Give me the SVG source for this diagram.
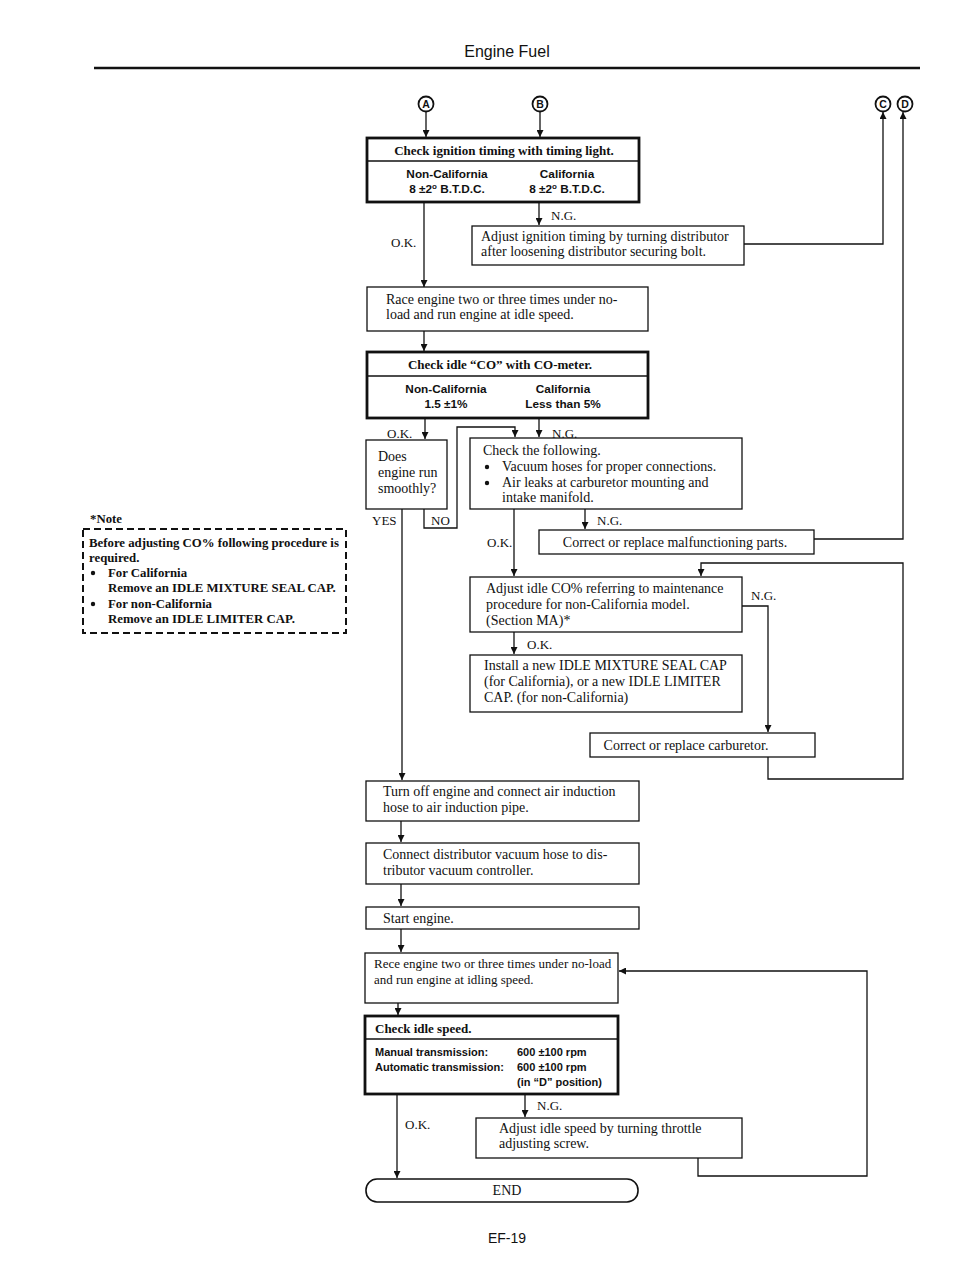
<svg xmlns="http://www.w3.org/2000/svg" width="960" height="1276" viewBox="0 0 960 1276">
<style>
.bg{fill:#fff}
.box{fill:#fff;stroke:#111;stroke-width:1.3}
.tbox{fill:#fff;stroke:#111;stroke-width:2.8}
.div{stroke:#111;stroke-width:1.5}
.ln{fill:none;stroke:#111;stroke-width:1.3}
.t{font-family:"Liberation Serif","Times New Roman",serif;font-size:14px;fill:#111}
.lb{font-family:"Liberation Serif","Times New Roman",serif;font-size:13px;fill:#111}
.tb{font-family:"Liberation Serif","Times New Roman",serif;font-size:13px;font-weight:bold;fill:#111}
.nb{font-family:"Liberation Serif","Times New Roman",serif;font-size:12.8px;font-weight:bold;fill:#111}
.s{font-family:"Liberation Sans",Arial,sans-serif;font-size:11px;font-weight:bold;fill:#111}
.s2{font-family:"Liberation Sans",Arial,sans-serif;font-size:11.8px;font-weight:bold;fill:#111}
.c{text-anchor:middle}
.circ{fill:#fff;stroke:#111;stroke-width:1.8}
.cl{font-family:"Liberation Sans",Arial,sans-serif;font-size:10.5px;font-weight:bold;fill:#111;text-anchor:middle}
</style>
<defs>
<marker id="ah" viewBox="0 0 10 10" refX="10" refY="5" markerWidth="8" markerHeight="7" orient="auto" markerUnits="userSpaceOnUse">
<path d="M0,0 L10,5 L0,10 z" fill="#111"/>
</marker>
</defs>
<rect class="bg" width="960" height="1276"/>

<g id="header">
<text x="507" y="57" style="font-family:'Liberation Sans',Arial,sans-serif;font-size:16px;fill:#111" text-anchor="middle">Engine Fuel</text>
<line x1="94" y1="68" x2="920" y2="68" stroke="#111" stroke-width="2.5"/>
</g>

<g id="connectorA"><circle class="circ" cx="426" cy="104" r="7.5"/><text class="cl" x="426" y="108">A</text></g>
<g id="connectorB"><circle class="circ" cx="540" cy="104" r="7.5"/><text class="cl" x="540" y="108">B</text></g>
<g id="connectorC"><circle class="circ" cx="883" cy="104" r="7.5"/><text class="cl" x="883" y="108">C</text></g>
<g id="connectorD"><circle class="circ" cx="905" cy="104" r="7.5"/><text class="cl" x="905" y="108">D</text></g>

<g id="connectors">
<path class="ln" d="M426,112 V137" marker-end="url(#ah)"/>
<path class="ln" d="M540,112 V137" marker-end="url(#ah)"/>
<path class="ln" d="M424,202 V287" marker-end="url(#ah)"/>
<path class="ln" d="M539,202 V225" marker-end="url(#ah)"/>
<path class="ln" d="M744,244 H883 V112" marker-end="url(#ah)"/>
<path class="ln" d="M424,331 V351" marker-end="url(#ah)"/>
<path class="ln" d="M425,418 V439" marker-end="url(#ah)"/>
<path class="ln" d="M539,418 V437" marker-end="url(#ah)"/>
<path class="ln" d="M424,509 V528 H457 V427 H515 V437" marker-end="url(#ah)"/>
<path class="ln" d="M402,509 V780" marker-end="url(#ah)"/>
<path class="ln" d="M585,509 V529" marker-end="url(#ah)"/>
<path class="ln" d="M514,509 V576" marker-end="url(#ah)"/>
<path class="ln" d="M814,539 H903 V112" marker-end="url(#ah)"/>
<path class="ln" d="M768,757 V779 H903 V563 H701 V576" marker-end="url(#ah)"/>
<path class="ln" d="M742,606 H768 V732" marker-end="url(#ah)"/>
<path class="ln" d="M514,632 V654" marker-end="url(#ah)"/>
<path class="ln" d="M401,821 V842" marker-end="url(#ah)"/>
<path class="ln" d="M401,884 V906" marker-end="url(#ah)"/>
<path class="ln" d="M401,929 V952" marker-end="url(#ah)"/>
<path class="ln" d="M398,1003 V1015" marker-end="url(#ah)"/>
<path class="ln" d="M525,1094 V1117" marker-end="url(#ah)"/>
<path class="ln" d="M397,1094 V1178" marker-end="url(#ah)"/>
<path class="ln" d="M698,1158 V1176 H867 V971 H619" marker-end="url(#ah)"/>
<text class="lb" x="391" y="247">O.K.</text>
<text class="lb" x="551" y="220">N.G.</text>
<text class="lb" x="387" y="438">O.K.</text>
<text class="lb" x="552" y="438">N.G.</text>
<text class="lb" x="372" y="525">YES</text>
<text class="lb" x="431" y="525">NO</text>
<text class="lb" x="597" y="525">N.G.</text>
<text class="lb" x="487" y="547">O.K.</text>
<text class="lb" x="751" y="600">N.G.</text>
<text class="lb" x="527" y="649">O.K.</text>
<text class="lb" x="537" y="1110">N.G.</text>
<text class="lb" x="405" y="1129">O.K.</text>
</g>

<g id="checkIgnition">
<rect class="tbox" x="367" y="138" width="272" height="64"/>
<line class="div" x1="367" y1="161" x2="639" y2="161"/>
<text class="tb c" x="504" y="155">Check ignition timing with timing light.</text>
<text class="s2 c" x="447" y="178">Non-California</text>
<text class="s2 c" x="447" y="193">8 ±2<tspan dy="-4" font-size="8">o</tspan><tspan dy="4"> B.T.D.C.</tspan></text>
<text class="s2 c" x="567" y="178">California</text>
<text class="s2 c" x="567" y="193">8 ±2<tspan dy="-4" font-size="8">o</tspan><tspan dy="4"> B.T.D.C.</tspan></text>
</g>

<g id="adjustIgnition">
<rect class="box" x="472" y="226" width="272" height="39"/>
<text class="t" x="481" y="241">Adjust ignition timing by turning distributor</text>
<text class="t" x="481" y="256">after loosening distributor securing bolt.</text>
</g>

<g id="raceEngine">
<rect class="box" x="367" y="287" width="281" height="44"/>
<text class="t" x="386" y="304">Race engine two or three times under no-</text>
<text class="t" x="386" y="319">load and run engine at idle speed.</text>
</g>

<g id="checkCO">
<rect class="tbox" x="367" y="352" width="281" height="66"/>
<line class="div" x1="367" y1="376" x2="648" y2="376"/>
<text class="tb c" x="500" y="369">Check idle “CO” with CO-meter.</text>
<text class="s2 c" x="446" y="393">Non-California</text>
<text class="s2 c" x="446" y="408">1.5 ±1%</text>
<text class="s2 c" x="563" y="393">California</text>
<text class="s2 c" x="563" y="408">Less than 5%</text>
</g>

<g id="smoothly">
<rect class="box" x="366" y="440" width="81" height="69"/>
<text class="t" x="378" y="461">Does</text>
<text class="t" x="378" y="477">engine run</text>
<text class="t" x="378" y="493">smoothly?</text>
</g>

<g id="checkFollowing">
<rect class="box" x="470" y="438" width="272" height="71"/>
<text class="t" x="483" y="455">Check the following.</text>
<circle cx="487" cy="467" r="2.2" fill="#111"/>
<text class="t" x="502" y="471">Vacuum hoses for proper connections.</text>
<circle cx="487" cy="483" r="2.2" fill="#111"/>
<text class="t" x="502" y="487">Air leaks at carburetor mounting and</text>
<text class="t" x="502" y="502">intake manifold.</text>
</g>

<g id="malfunction">
<rect class="box" x="539" y="530" width="275" height="24"/>
<text class="t c" x="675" y="547">Correct or replace malfunctioning parts.</text>
</g>

<g id="adjustCO">
<rect class="box" x="470" y="577" width="272" height="55"/>
<text class="t" x="486" y="593">Adjust idle CO% referring to maintenance</text>
<text class="t" x="486" y="609">procedure for non-California model.</text>
<text class="t" x="486" y="625">(Section MA)*</text>
</g>

<g id="installCap">
<rect class="box" x="470" y="655" width="272" height="57"/>
<text class="t" x="484" y="670">Install a new IDLE MIXTURE SEAL CAP</text>
<text class="t" x="484" y="686">(for California), or a new IDLE LIMITER</text>
<text class="t" x="484" y="702">CAP. (for non-California)</text>
</g>

<g id="carburetor">
<rect class="box" x="590" y="733" width="225" height="24"/>
<text class="t c" x="686" y="750">Correct or replace carburetor.</text>
</g>

<g id="note">
<text class="nb" x="90" y="523">*Note</text>
<rect x="83" y="529" width="263" height="104" fill="none" stroke="#111" stroke-width="2" stroke-dasharray="7 4"/>
<text class="nb" x="89" y="547">Before adjusting CO% following procedure is</text>
<text class="nb" x="89" y="562">required.</text>
<circle cx="93" cy="573" r="2.2" fill="#111"/>
<text class="nb" x="108" y="577">For California</text>
<text class="nb" x="108" y="592">Remove an IDLE MIXTURE SEAL CAP.</text>
<circle cx="93" cy="604" r="2.2" fill="#111"/>
<text class="nb" x="108" y="608">For non-California</text>
<text class="nb" x="108" y="623">Remove an IDLE LIMITER CAP.</text>
</g>

<g id="turnOff">
<rect class="box" x="366" y="781" width="273" height="40"/>
<text class="t" x="383" y="796">Turn off engine and connect air induction</text>
<text class="t" x="383" y="812">hose to air induction pipe.</text>
</g>

<g id="connectVacuum">
<rect class="box" x="366" y="843" width="273" height="41"/>
<text class="t" x="383" y="859">Connect distributor vacuum hose to dis-</text>
<text class="t" x="383" y="875">tributor vacuum controller.</text>
</g>

<g id="startEngine">
<rect class="box" x="366" y="907" width="273" height="22"/>
<text class="t" x="383" y="923">Start engine.</text>
</g>

<g id="receEngine">
<rect class="box" x="365" y="953" width="253" height="50"/>
<text class="t" x="374" y="968" style="font-size:13px">Rece engine two or three times under no-load</text>
<text class="t" x="374" y="984" style="font-size:13px">and run engine at idling speed.</text>
</g>

<g id="checkIdle">
<rect class="tbox" x="365" y="1016" width="253" height="78"/>
<line class="div" x1="365" y1="1039" x2="618" y2="1039"/>
<text class="tb" x="375" y="1033">Check idle speed.</text>
<text class="s" x="375" y="1056">Manual transmission:</text>
<text class="s" x="517" y="1056">600 ±100 rpm</text>
<text class="s" x="375" y="1071">Automatic transmission:</text>
<text class="s" x="517" y="1071">600 ±100 rpm</text>
<text class="s" x="517" y="1086">(in “D” position)</text>
</g>

<g id="adjustIdle">
<rect class="box" x="476" y="1118" width="266" height="40"/>
<text class="t" x="499" y="1133">Adjust idle speed by turning throttle</text>
<text class="t" x="499" y="1148">adjusting screw.</text>
</g>

<g id="end">
<rect class="box" x="366" y="1179" width="272" height="23" rx="11" style="stroke-width:1.6"/>
<text class="t c" x="507" y="1195">END</text>
</g>

<g id="footer">
<text x="507" y="1243" style="font-family:'Liberation Sans',Arial,sans-serif;font-size:14px;fill:#111" text-anchor="middle">EF-19</text>
</g>
</svg>
